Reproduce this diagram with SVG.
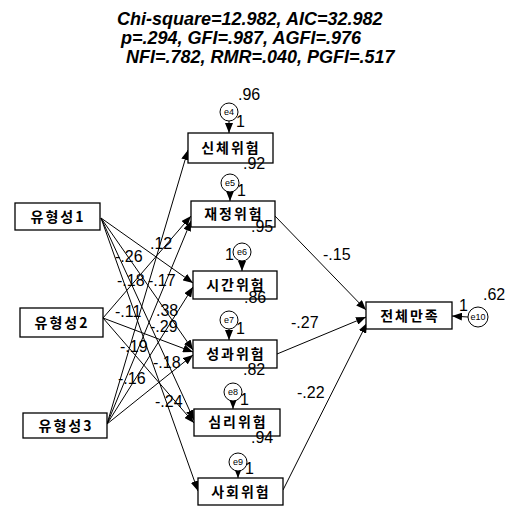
<svg xmlns="http://www.w3.org/2000/svg" width="522" height="506" viewBox="0 0 522 506">
<defs>
<marker id="ah" viewBox="0 0 10 8" refX="10" refY="4" markerWidth="10" markerHeight="8" markerUnits="userSpaceOnUse" orient="auto">
<path d="M0,0 L10,4 L0,8 Z" fill="#000"/>
</marker>
</defs>
<style>
.bx{fill:#fff;stroke:#000;stroke-width:1.3}
.kt{font-family:"Noto Sans CJK KR","Noto Sans",sans-serif;font-size:14px;font-weight:bold;letter-spacing:2px;text-anchor:middle;fill:#000}
.ci{fill:#fff;stroke:#000;stroke-width:1}
.et{font-family:"Liberation Sans",Arial,sans-serif;font-size:9px;text-anchor:middle;fill:#000}
.nm{font-family:"Liberation Sans",Arial,sans-serif;font-size:16px;fill:#000}
.ttl{font-family:"Liberation Sans",Arial,sans-serif;font-size:18px;font-weight:bold;font-style:italic;fill:#000}
.ln{stroke:#000;stroke-width:1;fill:none;marker-end:url(#ah)}
</style>
<rect width="522" height="506" fill="#fff"/>
<g id="title">
<text class="ttl" x="117" y="25">Chi-square=12.982, AIC=32.982</text>
<text class="ttl" x="121" y="44">p=.294, GFI=.987, AGFI=.976</text>
<text class="ttl" x="126" y="63">NFI=.782, RMR=.040, PGFI=.517</text>
</g>
<g id="connectors">
<line class="ln" x1="107" y1="424" x2="188" y2="150"/>
<line class="ln" x1="103" y1="318" x2="191" y2="216"/>
<line class="ln" x1="107" y1="424" x2="191" y2="221"/>
<line class="ln" x1="101" y1="218" x2="193" y2="283"/>
<line class="ln" x1="107" y1="424" x2="193" y2="287"/>
<line class="ln" x1="101" y1="218" x2="193" y2="350"/>
<line class="ln" x1="103" y1="318" x2="193" y2="352"/>
<line class="ln" x1="107" y1="424" x2="193" y2="355"/>
<line class="ln" x1="101" y1="218" x2="194" y2="420"/>
<line class="ln" x1="103" y1="318" x2="194" y2="423"/>
<line class="ln" x1="101" y1="218" x2="198" y2="491"/>
<line class="ln" x1="275" y1="216" x2="366" y2="310"/>
<line class="ln" x1="277" y1="354" x2="366" y2="317"/>
<line class="ln" x1="283" y1="490" x2="367" y2="323"/>
<line class="ln" x1="229" y1="121" x2="229" y2="133"/>
<line class="ln" x1="230" y1="192" x2="230" y2="201"/>
<line class="ln" x1="242" y1="261" x2="242" y2="271"/>
<line class="ln" x1="229" y1="329" x2="229" y2="340"/>
<line class="ln" x1="233" y1="401" x2="233" y2="409"/>
<line class="ln" x1="238" y1="471" x2="238" y2="478"/>
<line class="ln" x1="468" y1="317" x2="452" y2="316"/>
</g>
<g id="coefs" class="nm">
<text x="150" y="249">.12</text>
<text x="115" y="262">-.26</text>
<text x="117" y="286">-.18</text>
<text x="148" y="286">-.17</text>
<text x="115" y="317">-.11</text>
<text x="156" y="316">.38</text>
<text x="150" y="332">-.29</text>
<text x="120" y="352">-.19</text>
<text x="153" y="368">-.18</text>
<text x="118" y="384">-.16</text>
<text x="155" y="407">-.24</text>
<text x="323" y="260">-.15</text>
<text x="291" y="328">-.27</text>
<text x="297" y="398">-.22</text>
</g>
<g id="n-yh1"><rect class="bx" x="15" y="203" width="85" height="27"/><text class="kt" x="58" y="222">유형성1</text></g>
<g id="n-yh2"><rect class="bx" x="20" y="308" width="83" height="29"/><text class="kt" x="62" y="328">유형성2</text></g>
<g id="n-yh3"><rect class="bx" x="23" y="413" width="84" height="25"/><text class="kt" x="66" y="431">유형성3</text></g>
<g id="n-sc"><rect class="bx" x="188" y="133" width="85" height="30"/><text class="kt" x="231" y="153">신체위험</text></g>
<g id="n-jj"><rect class="bx" x="191" y="201" width="84" height="26"/><text class="kt" x="234" y="219">재정위험</text></g>
<g id="n-sg"><rect class="bx" x="193" y="271" width="84" height="28"/><text class="kt" x="236" y="290">시간위험</text></g>
<g id="n-sgw"><rect class="bx" x="193" y="340" width="84" height="28"/><text class="kt" x="236" y="359">성과위험</text></g>
<g id="n-sr"><rect class="bx" x="194" y="409" width="86" height="27"/><text class="kt" x="238" y="427">심리위험</text></g>
<g id="n-sh"><rect class="bx" x="198" y="478" width="85" height="27"/><text class="kt" x="241" y="497">사회위험</text></g>
<g id="n-total"><rect class="bx" x="366" y="302" width="86" height="27"/><text class="kt" x="410" y="321">전체만족</text></g>
<g id="e4"><circle class="ci" cx="229" cy="112" r="9"/><text class="et" x="229" y="115">e4</text><text class="nm" x="236" y="127">1</text><text class="nm" x="238" y="100">.96</text></g>
<g id="e5"><circle class="ci" cx="230" cy="183" r="9"/><text class="et" x="230" y="186">e5</text><text class="nm" x="237" y="196">1</text><text class="nm" x="243" y="169">.92</text></g>
<g id="e6"><circle class="ci" cx="242" cy="252" r="9"/><text class="et" x="242" y="255">e6</text><text class="nm" x="225" y="260">1</text><text class="nm" x="251" y="232">.95</text></g>
<g id="e7"><circle class="ci" cx="229" cy="320" r="9"/><text class="et" x="229" y="323">e7</text><text class="nm" x="236" y="334">1</text><text class="nm" x="244" y="303">.86</text></g>
<g id="e8"><circle class="ci" cx="233" cy="392" r="9"/><text class="et" x="233" y="395">e8</text><text class="nm" x="240" y="405">1</text><text class="nm" x="243" y="375">.82</text></g>
<g id="e9"><circle class="ci" cx="238" cy="462" r="9"/><text class="et" x="238" y="465">e9</text><text class="nm" x="245" y="474">1</text><text class="nm" x="251" y="443">.94</text></g>
<g id="e10"><circle class="ci" cx="478" cy="317" r="10"/><text class="et" x="478" y="320">e10</text><text class="nm" x="459" y="311">1</text><text class="nm" x="483" y="300">.62</text></g>
</svg>
